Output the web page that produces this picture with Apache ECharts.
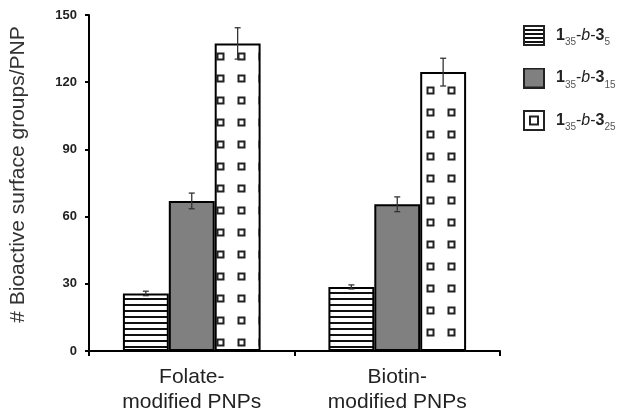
<!DOCTYPE html>
<html>
<head>
<meta charset="utf-8">
<script src="https://cdn.jsdelivr.net/npm/echarts@6/dist/echarts.min.js"></script>
<style>
html,body{margin:0;padding:0;background:#fff;}
#chart{width:624px;height:418px;}
</style>
</head>
<body>
<div id="chart"></div>
<script>
// ---- data ----
var categories = ['Folate-\nmodified PNPs', 'Biotin-\nmodified PNPs'];
var seriesNames = ['1_35-b-3_5', '1_35-b-3_15', '1_35-b-3_25'];
var values5 = [25.7, 28.6];
var errors5 = [1.0, 0.9];
var values15 = [67.0, 65.5];
var errors15 = [3.5, 3.3];
var values25 = [137.3, 124.5];
var errors25 = [7.0, 6.2];
var yTicks = [0, 30, 60, 90, 120, 150];

// ---- patterns ----
function stripeTile() {
  var c = document.createElement('canvas'); c.width = 8; c.height = 6;
  var g = c.getContext('2d');
  g.fillStyle = '#fff'; g.fillRect(0, 0, 8, 6);
  g.fillStyle = '#111'; g.fillRect(0, 4, 8, 2);
  return c;
}
function squareTile() {
  var c = document.createElement('canvas'); c.width = 21; c.height = 22;
  var g = c.getContext('2d');
  g.fillStyle = '#fff'; g.fillRect(0, 0, 21, 22);
  g.strokeStyle = '#222'; g.lineWidth = 2;
  g.strokeRect(7.5, 9.5, 6, 6);
  return c;
}
function iconImg(kind) {
  var c = document.createElement('canvas'); c.width = 22; c.height = 21;
  var g = c.getContext('2d');
  if (kind === 0) {
    g.fillStyle = '#fff'; g.fillRect(0, 0, 22, 21);
    g.fillStyle = '#111';
    for (var y = 4; y < 19; y += 4) g.fillRect(1, y, 20, 2);
  } else if (kind === 1) {
    g.fillStyle = '#808080'; g.fillRect(0, 0, 22, 21);
  } else {
    g.fillStyle = '#fff'; g.fillRect(0, 0, 22, 21);
    g.strokeStyle = '#222'; g.lineWidth = 2;
    g.strokeRect(7, 6.5, 8, 8);
  }
  g.strokeStyle = '#222'; g.lineWidth = 2;
  g.strokeRect(1, 1, 20, 19);
  return 'image://' + c.toDataURL();
}

var stripe = stripeTile();
var sq = squareTile();

var chart = echarts.init(document.getElementById('chart'));

var barCatGap = 0.33;
function errSeries(vals, errs, idx) {
  var data = vals.map(function (v, i) { return [i, v, errs[i]]; });
  return {
    type: 'custom', z: 10, silent: true,
    data: data,
    encode: { x: 0, y: 1 },
    renderItem: function (params, api) {
      var ci = api.value(0), v = api.value(1), e = api.value(2);
      var band = api.size([1, 0])[0];
      var bw = band * (1 - barCatGap) / 3;
      var cx = api.coord([ci, v])[0] + (idx - 1) * bw;
      var yt = api.coord([ci, v + e])[1];
      var yb = api.coord([ci, v - e])[1];
      var st = { stroke: '#333', lineWidth: 1.3 };
      var cap = 3;
      return {
        type: 'group',
        children: [
          { type: 'line', shape: { x1: cx, y1: yt, x2: cx, y2: yb }, style: st },
          { type: 'line', shape: { x1: cx - cap, y1: yt, x2: cx + cap, y2: yt }, style: st },
          { type: 'line', shape: { x1: cx - cap, y1: yb, x2: cx + cap, y2: yb }, style: st }
        ]
      };
    }
  };
}

var labelRich = {
  b: { fontFamily: 'Liberation Sans, Arial', fontWeight: 'bold', fontSize: 16, color: '#222', lineHeight: 18 },
  n: { fontFamily: 'Liberation Sans, Arial', fontSize: 16, color: '#222', lineHeight: 18 },
  i: { fontFamily: 'Liberation Sans, Arial', fontStyle: 'italic', fontSize: 16, color: '#222', lineHeight: 18 },
  s: { fontFamily: 'Liberation Sans, Arial', fontSize: 10, color: '#555', lineHeight: 10, verticalAlign: 'bottom', padding: [0, 0, -3, 0] }
};
function legendLabel(name) {
  var p = name.split('-'); // ['1_35','b','3_x']
  var a = p[0].split('_'), c = p[2].split('_');
  return '{b|' + a[0] + '}{s|' + a[1] + '}{n|-}{i|' + p[1] + '}{n|-}{b|' + c[0] + '}{s|' + c[1] + '}';
}

var option = {
  backgroundColor: '#fff',
  animation: false,
  grid: { left: 80, right: 124, top: 15, bottom: 67, containLabel: false },
  legend: {
    orient: 'vertical', left: 518, top: 20,
    itemWidth: 22, itemHeight: 21, itemGap: 20,
    data: [
      { name: seriesNames[0], icon: iconImg(0) },
      { name: seriesNames[1], icon: iconImg(1) },
      { name: seriesNames[2], icon: iconImg(2) }
    ],
    formatter: legendLabel,
    textStyle: { padding: [0, 0, 0, 6], rich: labelRich }
  },
  xAxis: {
    type: 'category', data: categories,
    axisLine: { lineStyle: { color: '#000', width: 2 } },
    axisTick: { show: true, length: 5, lineStyle: { color: '#000', width: 2 } },
    axisLabel: { margin: 14, fontFamily: 'Liberation Sans, Arial', fontSize: 21, color: '#222', lineHeight: 25 }
  },
  yAxis: {
    type: 'value', min: 0, max: 150, interval: 30,
    name: '# Bioactive surface groups/PNP', nameLocation: 'middle', nameGap: 60,
    nameTextStyle: { fontFamily: 'Liberation Sans, Arial', fontSize: 21, color: '#333', padding: [0, 0, 0, 17] },
    axisLine: { show: true, lineStyle: { color: '#000', width: 2 } },
    axisTick: { show: true, length: 4, lineStyle: { color: '#000', width: 2 } },
    splitLine: { show: false },
    axisLabel: {
      margin: 12, fontFamily: 'Liberation Sans, Arial', fontWeight: 'bold', fontSize: 13, color: '#222',
      formatter: function (v) { return yTicks.indexOf(v) >= 0 ? String(v) : ''; }
    }
  },
  series: [
    {
      name: seriesNames[0], type: 'bar', data: values5,
      barGap: '0%', barCategoryGap: '33%',
      itemStyle: { color: { image: stripe, repeat: 'repeat' }, borderColor: '#000', borderWidth: 2 }
    },
    {
      name: seriesNames[1], type: 'bar', data: values15,
      itemStyle: { color: '#808080', borderColor: '#000', borderWidth: 2 }
    },
    {
      name: seriesNames[2], type: 'bar',
      data: values25.map(function (v, i) {
        return { value: v, itemStyle: { color: { image: sq, repeat: 'repeat', x: 0, y: i === 0 ? 0 : -10 } } };
      }),
      itemStyle: { borderColor: '#000', borderWidth: 2 }
    },
    errSeries(values5, errors5, 0),
    errSeries(values15, errors15, 1),
    errSeries(values25, errors25, 2)
  ]
};
chart.setOption(option);
</script>
</body>
</html>
